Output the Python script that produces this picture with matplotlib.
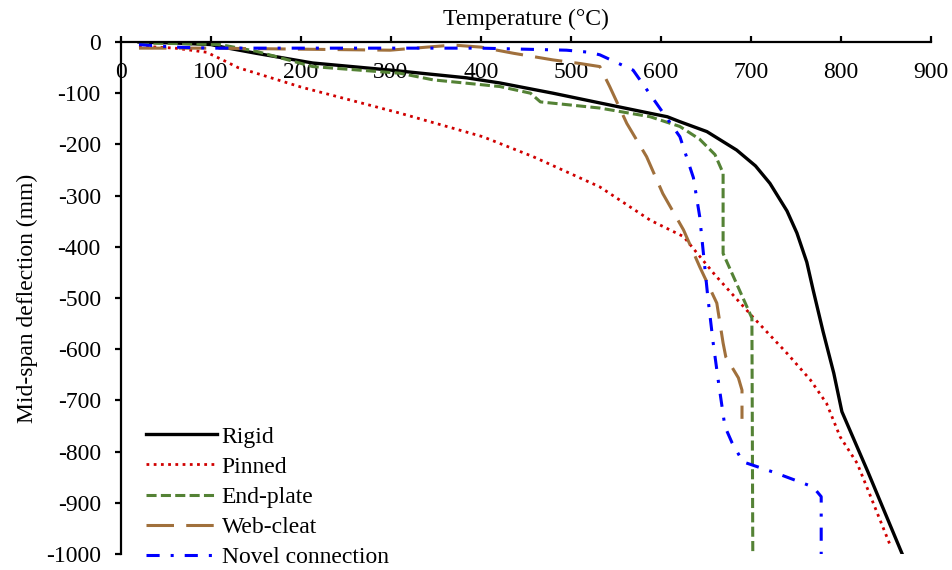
import matplotlib
matplotlib.use("Agg")
import matplotlib.pyplot as plt

plt.rcParams['font.family'] = ['Liberation Serif', 'DejaVu Serif']
plt.rcParams['axes.unicode_minus'] = False

# Temperature (°C) and mid-span deflection (mm) for each connection type
rigid_t = [20, 60, 100, 113, 150, 213, 300, 384, 421, 480, 532, 590, 607, 620, 651, 684, 705, 721, 740, 751, 762, 769, 780, 792, 801, 830, 868]
rigid_d = [0, -2, -5, -10, -22, -41, -55, -70, -80, -100, -119, -140, -146, -155, -175, -211, -242, -276, -330, -373, -430, -484, -565, -647, -722, -840, -1000]

pinned_t = [20, 60, 95, 113, 130, 200, 310, 402, 458, 532, 588, 625, 660, 702, 740, 766, 784, 799, 818, 830, 854]
pinned_d = [-8, -12, -20, -35, -50, -88, -139, -185, -224, -283, -348, -380, -455, -537, -608, -660, -706, -771, -823, -875, -980]

endplate_t = [20, 60, 110, 150, 213, 310, 347, 421, 455, 466, 532, 588, 621, 643, 660, 669, 669, 701, 702]
endplate_d = [-2, -3, -5, -18, -48, -61, -74, -87, -100, -117, -129, -146, -165, -190, -220, -256, -413, -539, -1000]

webcleat_t = [20, 100, 200, 299, 340, 369, 400, 436, 480, 510, 532, 543, 562, 584, 602, 625, 643, 662, 669, 672, 686, 690, 690]
webcleat_d = [-12, -12, -14, -16, -10, -6, -10, -22, -35, -42, -48, -87, -159, -224, -296, -367, -439, -510, -588, -615, -656, -680, -736]

novel_t = [20, 60, 100, 200, 300, 400, 495, 520, 532, 569, 595, 621, 636, 643, 652, 658, 664, 671, 679, 691, 728, 769, 778, 778]
novel_d = [-5, -10, -12, -12, -12, -12, -16, -20, -25, -55, -120, -185, -265, -341, -498, -588, -666, -751, -783, -820, -842, -869, -888, -1000]

x_ticks = [0, 100, 200, 300, 400, 500, 600, 700, 800, 900]
y_ticks = [0, -100, -200, -300, -400, -500, -600, -700, -800, -900, -1000]

fs = 17

fig = plt.figure(figsize=(9.52, 5.70), dpi=100)
ax = fig.add_axes([121 / 952, 1 - 554 / 570, 810 / 952, 512 / 570])

lw = 2.2
ax.plot(rigid_t, rigid_d, color='black', lw=lw + 0.2, label='Rigid')
ax.plot(pinned_t, pinned_d, color='#D00000', lw=2.0,
        linestyle=(0, (1, 1.6)), label='Pinned')
ax.plot(endplate_t, endplate_d, color='#548235', lw=lw,
        linestyle=(0, (3.3, 1.4)), label='End-plate')
ax.plot(webcleat_t, webcleat_d, color='#A0703C', lw=lw,
        linestyle=(0, (9, 4)), label='Web-cleat')
ax.plot(novel_t, novel_d, color='#0000FF', lw=lw,
        linestyle=(0, (4.3, 3.6, 1, 3.6)), label='Novel connection')

ax.set_xlim(0, 900)
ax.set_ylim(-1000, 0)
ax.set_xticks(x_ticks)
ax.set_yticks(y_ticks)

for side in ('right', 'bottom'):
    ax.spines[side].set_visible(False)
for side in ('top', 'left'):
    ax.spines[side].set_linewidth(1.6)

ax.tick_params(axis='x', top=True, bottom=False, labeltop=True,
               labelbottom=False, direction='out', length=4.5, width=1.6,
               pad=-34, labelsize=fs)
ax.tick_params(axis='y', direction='out', length=4.5, width=1.6,
               pad=10, labelsize=fs)

ax.xaxis.set_label_position('top')
ax.set_xlabel('Temperature (\u00b0C)', fontsize=fs, labelpad=8)
ax.set_ylabel('Mid-span deflection (mm)', fontsize=fs, labelpad=6)

leg = ax.legend(loc='lower left', bbox_to_anchor=(0.031, -0.027),
                frameon=False, fontsize=fs, handlelength=3.0,
                handletextpad=0.2, labelspacing=0.36, borderpad=0,
                borderaxespad=0)

fig.savefig('out.png', dpi=100)
